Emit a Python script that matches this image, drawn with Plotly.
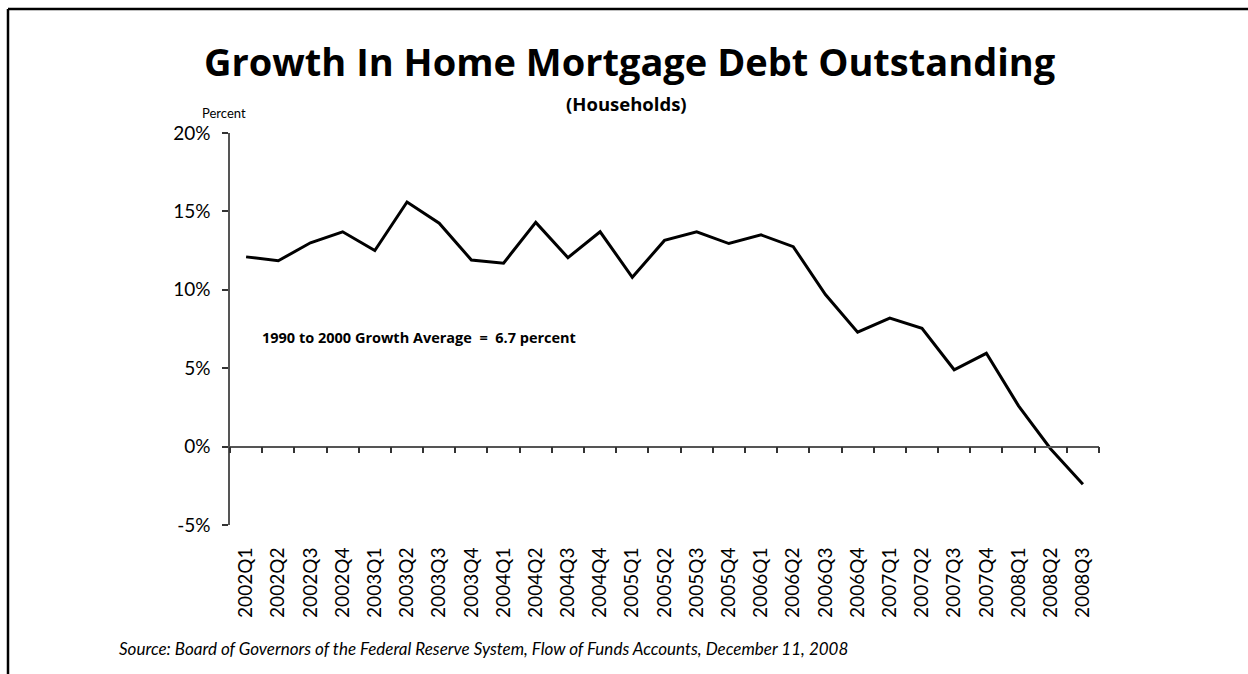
import plotly.graph_objects as go

# Quarterly labels and year-over-year growth of household mortgage debt (%)
quarters = [
    "2002Q1", "2002Q2", "2002Q3", "2002Q4",
    "2003Q1", "2003Q2", "2003Q3", "2003Q4",
    "2004Q1", "2004Q2", "2004Q3", "2004Q4",
    "2005Q1", "2005Q2", "2005Q3", "2005Q4",
    "2006Q1", "2006Q2", "2006Q3", "2006Q4",
    "2007Q1", "2007Q2", "2007Q3", "2007Q4",
    "2008Q1", "2008Q2", "2008Q3",
]
growth = [
    12.1, 11.85, 13.0, 13.7,
    12.5, 15.6, 14.25, 11.9,
    11.7, 14.3, 12.05, 13.7,
    10.8, 13.15, 13.7, 12.95,
    13.5, 12.75, 9.7, 7.3,
    8.2, 7.55, 4.9, 5.95,
    2.6, -0.15, -2.4,
]
y_tick_vals = [-5, 0, 5, 10, 15, 20]
y_tick_text = ["-5%", "0%", "5%", "10%", "15%", "20%"]

W, H = 1248, 674
L, R, T, B = 230, 149, 133, 149
PW, PH = W - L - R, H - T - B

def px_x(px):
    return (px - L) / PW

def px_y(py):
    return (H - B - py) / PH

FONT = "Lato"
BOLD_FONT = "Open Sans"
y_min, y_max = -5, 20

fig = go.Figure()

# Main series
fig.add_trace(go.Scatter(
    x=quarters, y=growth, mode="lines",
    line=dict(color="black", width=3),
    hoverinfo="x+y", showlegend=False,
))
# Same series on the overlay axis that carries the zero line with ticks
fig.add_trace(go.Scatter(
    x=quarters, y=growth, mode="lines", xaxis="x2",
    line=dict(color="rgba(0,0,0,0)", width=0),
    hoverinfo="skip", showlegend=False,
))

fig.update_layout(
    width=W, height=H,
    margin=dict(l=L, r=R, t=T, b=B),
    paper_bgcolor="white", plot_bgcolor="white",
    font=dict(family=FONT, color="black"),
    xaxis=dict(
        type="category", range=[-0.5, len(quarters) - 0.5],
        showline=False, showgrid=False, zeroline=False,
        ticks="outside", ticklen=14, tickcolor="rgba(0,0,0,0)",
        tickangle=-90, tickfont=dict(size=19, family=FONT),
    ),
    xaxis2=dict(
        type="category", range=[-0.5, len(quarters) - 0.5],
        overlaying="x", anchor="free",
        position=(0 - y_min) / (y_max - y_min),
        showline=True, linecolor="#555555", linewidth=1.5,
        ticks="outside", tickson="boundaries", ticklen=6,
        tickcolor="#333333", tickwidth=1.5,
        showticklabels=False, showgrid=False, zeroline=False,
    ),
    yaxis=dict(
        range=[y_min, y_max],
        tickvals=y_tick_vals, ticktext=y_tick_text,
        showline=True, linecolor="#555555", linewidth=1.5,
        ticks="outside", ticklen=6, tickcolor="#333333", tickwidth=1.5,
        ticklabelstandoff=8,
        showgrid=False, zeroline=False,
        tickfont=dict(size=19, family=FONT),
    ),
)

annotations = [
    dict(text="<b>Growth In Home Mortgage Debt Outstanding</b>",
         x=px_x(630), y=px_y(61), xanchor="center", yanchor="middle",
         font=dict(size=38, family=BOLD_FONT)),
    dict(text="<b>(Households)</b>",
         x=px_x(626), y=px_y(103), xanchor="center", yanchor="middle",
         font=dict(size=18.5, family=BOLD_FONT)),
    dict(text="Percent",
         x=px_x(224), y=px_y(113), xanchor="center", yanchor="middle",
         font=dict(size=13, family=FONT)),
    dict(text="<b>1990 to 2000 Growth Average  =  6.7 percent</b>",
         x=px_x(260), y=px_y(337), xanchor="left", yanchor="middle",
         font=dict(size=14.5, family=BOLD_FONT)),
    dict(text="<i>Source: Board of Governors of the Federal Reserve System, Flow of Funds Accounts, December 11, 2008</i>",
         x=px_x(117), y=px_y(648), xanchor="left", yanchor="middle",
         font=dict(size=17, family=FONT)),
]
for a in annotations:
    fig.add_annotation(xref="paper", yref="paper", showarrow=False, **a)

# Frame: top rule across the page and left rule down the page
fig.add_shape(type="line", xref="paper", yref="paper",
              x0=px_x(8), x1=px_x(W), y0=px_y(9), y1=px_y(9),
              line=dict(color="black", width=2.5))
fig.add_shape(type="line", xref="paper", yref="paper",
              x0=px_x(8), x1=px_x(8), y0=px_y(9), y1=px_y(H),
              line=dict(color="black", width=2.5))

fig.write_html("out.html")
